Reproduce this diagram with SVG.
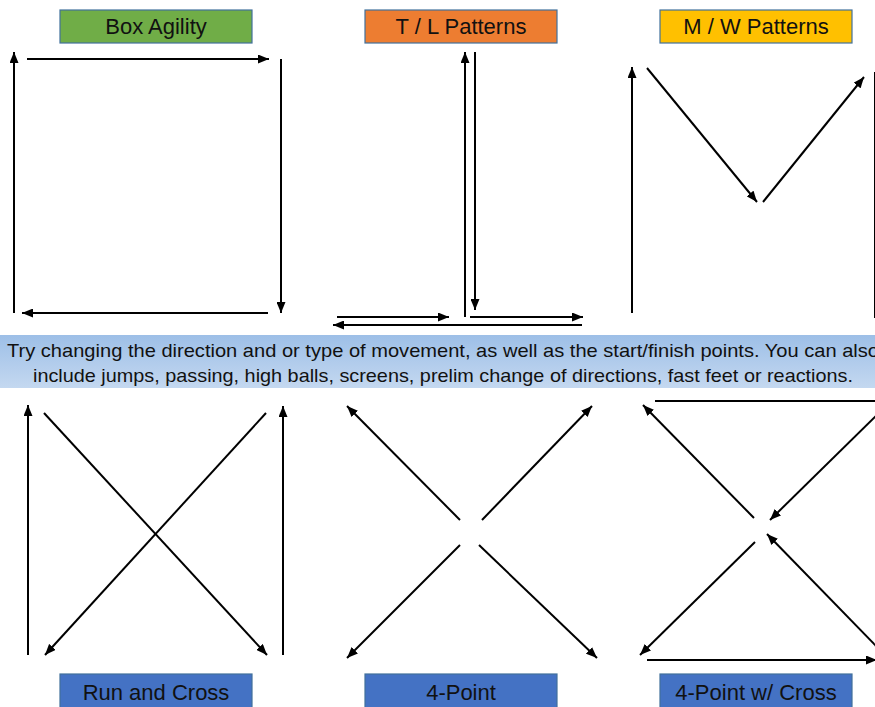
<svg xmlns="http://www.w3.org/2000/svg" width="875" height="707" viewBox="0 0 875 707">
  <style>
    .box { stroke: #41719C; stroke-width: 1.2; }
    .lbl { font-family: "Liberation Sans", Arial, sans-serif; font-size: 22px; fill: #111; text-anchor: middle; }
    .ban { font-family: "Liberation Sans", Arial, sans-serif; font-size: 19px; fill: #111; }
    .arr { stroke: #000; stroke-width: 2; fill: none; marker-end: url(#ah); }
    .ln { stroke: #000; stroke-width: 2; fill: none; }
  </style>
  <defs>
    <marker id="ah" viewBox="0 0 11 9" refX="11" refY="4.5" markerWidth="11" markerHeight="9" markerUnits="userSpaceOnUse" orient="auto">
      <path d="M0,0 L11,4.5 L0,9 z" fill="#000"/>
    </marker>
    <linearGradient id="bg" x1="0" y1="0" x2="0" y2="1">
      <stop offset="0" stop-color="#9DBFE7"/>
      <stop offset="1" stop-color="#C4D8F0"/>
    </linearGradient>
  </defs>
  <rect width="875" height="707" fill="#fff"/>

  <g id="banner">
    <rect x="0" y="335" width="875" height="53" fill="url(#bg)"/>
    <text class="ban" x="7" y="357" textLength="872" lengthAdjust="spacingAndGlyphs">Try changing the direction and or type of movement, as well as the start/finish points. You can also</text>
    <text class="ban" x="33" y="382" textLength="820" lengthAdjust="spacingAndGlyphs">include jumps, passing, high balls, screens, prelim change of directions, fast feet or reactions.</text>
  </g>

  <g id="box-agility">
    <rect class="box" x="60" y="10" width="192" height="33" fill="#70AD47"/>
    <text class="lbl" x="156" y="34">Box Agility</text>
  </g>
  <g id="tl-patterns">
    <rect class="box" x="365" y="10" width="192" height="33" fill="#ED7D31"/>
    <text class="lbl" x="461" y="34">T / L Patterns</text>
  </g>
  <g id="mw-patterns">
    <rect class="box" x="660" y="10" width="192" height="33" fill="#FFC000"/>
    <text class="lbl" x="756" y="34">M / W Patterns</text>
  </g>
  <g id="run-and-cross">
    <rect class="box" x="60" y="674" width="192" height="40" fill="#4472C4"/>
    <text class="lbl" x="156" y="700">Run and Cross</text>
  </g>
  <g id="four-point">
    <rect class="box" x="365" y="674" width="192" height="40" fill="#4472C4"/>
    <text class="lbl" x="461" y="700">4-Point</text>
  </g>
  <g id="four-point-cross">
    <rect class="box" x="660" y="674" width="192" height="40" fill="#4472C4"/>
    <text class="lbl" x="756" y="700">4-Point w/ Cross</text>
  </g>

  <g id="connectors">
    <!-- Box Agility -->
    <line class="arr" x1="14" y1="313" x2="14" y2="52"/>
    <line class="arr" x1="27" y1="59" x2="269" y2="59"/>
    <line class="arr" x1="281" y1="59" x2="281" y2="313"/>
    <line class="arr" x1="268" y1="313" x2="22" y2="313"/>
    <!-- T / L -->
    <line class="arr" x1="465" y1="317" x2="465" y2="52"/>
    <line class="arr" x1="475" y1="52" x2="475" y2="310"/>
    <line class="arr" x1="337" y1="317" x2="449" y2="317"/>
    <line class="arr" x1="470" y1="317" x2="583" y2="317"/>
    <line class="arr" x1="582" y1="325" x2="333" y2="325"/>
    <!-- M / W -->
    <line class="arr" x1="632" y1="313" x2="632" y2="67"/>
    <line class="arr" x1="647" y1="68" x2="757" y2="202"/>
    <line class="arr" x1="763" y1="202" x2="864" y2="77"/>
    <line class="ln" x1="875" y1="72" x2="875" y2="318"/>
    <!-- Run and Cross -->
    <line class="arr" x1="28" y1="655" x2="28" y2="405"/>
    <line class="arr" x1="283" y1="655" x2="283" y2="406"/>
    <line class="arr" x1="44" y1="413" x2="267" y2="655"/>
    <line class="arr" x1="266" y1="413" x2="45" y2="655"/>
    <!-- 4-Point -->
    <line class="arr" x1="460" y1="520" x2="347" y2="406"/>
    <line class="arr" x1="482" y1="520" x2="592" y2="406"/>
    <line class="arr" x1="460" y1="545" x2="347" y2="658"/>
    <line class="arr" x1="479" y1="545" x2="597" y2="658"/>
    <!-- 4-Point w/ Cross -->
    <line class="ln" x1="655" y1="401" x2="880" y2="401"/>
    <line class="arr" x1="754" y1="518" x2="643" y2="405"/>
    <line class="arr" x1="878" y1="414" x2="770" y2="520"/>
    <line class="arr" x1="878" y1="648" x2="767" y2="534"/>
    <line class="arr" x1="755" y1="542" x2="640" y2="655"/>
    <line class="arr" x1="647" y1="660" x2="877" y2="660"/>
  </g>
</svg>
